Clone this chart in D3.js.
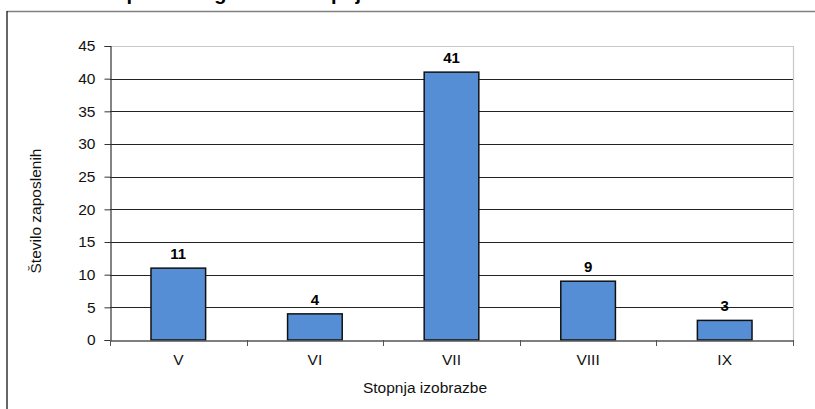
<!DOCTYPE html>
<html>
<head>
<meta charset="utf-8">
<script src="https://cdn.jsdelivr.net/npm/d3@7"></script>
<style>
html,body{margin:0;padding:0;background:#fff;}
svg{display:block;font-family:"Liberation Sans",Arial,sans-serif;}
</style>
</head>
<body>
<svg id="chart" width="815" height="409"></svg>
<script>
const categories = ["V", "VI", "VII", "VIII", "IX"];
const values = [11, 4, 41, 9, 3];
const yTicks = [0, 5, 10, 15, 20, 25, 30, 35, 40, 45];
const titleText = "Struktura zaposlenih glede na stopnjo izobrazbe";
const xTitle = "Stopnja izobrazbe";
const yTitle = "Število zaposlenih";

const svg = d3.select("#chart");
const plot = {left: 110, right: 793, top: 46, bottom: 340};
const fs = 15.5;

// chart frame
svg.append("line").attr("x1", 7).attr("x2", 815).attr("y1", 11.5).attr("y2", 11.5)
  .attr("stroke", "#808080").attr("stroke-width", 1.5);
svg.append("line").attr("x1", 7).attr("x2", 7).attr("y1", 11).attr("y2", 409)
  .attr("stroke", "#000").attr("stroke-width", 1.2);

// cut-off title
svg.append("text").attr("x", 11).attr("y", 0).attr("font-size", 20).attr("font-weight", "bold")
  .attr("fill", "#000").text(titleText);

const x = d3.scaleBand().domain(categories).range([plot.left, plot.right]).padding(0);
const y = d3.scaleLinear().domain([0, 45]).range([plot.bottom, plot.top]);

// gridlines
svg.append("g").selectAll("line").data(yTicks.filter(d => d > 0 && d < 45)).join("line")
  .attr("x1", plot.left).attr("x2", plot.right)
  .attr("y1", d => Math.round(y(d)) + 0.5).attr("y2", d => Math.round(y(d)) + 0.5)
  .attr("stroke", "#222").attr("stroke-width", 1);

// plot border top/right
svg.append("path")
  .attr("d", `M${plot.left},${Math.round(y(45)) + 0.5}H${plot.right + 0.5}V${plot.bottom}`)
  .attr("fill", "none").attr("stroke", "#c8c8c8").attr("stroke-width", 1.2);

// bars
const bw = x.bandwidth() * 0.4;
svg.append("g").selectAll("rect").data(values).join("rect")
  .attr("x", (d, i) => x(categories[i]) + (x.bandwidth() - bw) / 2)
  .attr("y", d => y(d))
  .attr("width", bw)
  .attr("height", d => y(0) - y(d))
  .attr("fill", "#558ed5").attr("stroke", "#111").attr("stroke-width", 1.5);

// value labels
svg.append("g").selectAll("text").data(values).join("text")
  .attr("x", (d, i) => x(categories[i]) + x.bandwidth() / 2)
  .attr("y", d => y(d) - 9)
  .attr("text-anchor", "middle").attr("font-size", 15).attr("font-weight", "bold")
  .attr("fill", "#000").text(d => d);

// y axis
const yAxis = d3.axisLeft(y).tickValues(yTicks).tickSize(6).tickPadding(9);
const gy = svg.append("g").attr("transform", `translate(${plot.left + 0.5},0)`).call(yAxis);
gy.select(".domain").attr("stroke", "#333").attr("stroke-width", 1.2);
gy.selectAll(".tick line").attr("stroke", "#333");
gy.selectAll("text").attr("font-size", fs).attr("fill", "#111")
  .attr("font-family", "Liberation Sans, Arial, sans-serif");

// x axis
const gx = svg.append("g").attr("transform", `translate(0,${plot.bottom + 0.5})`)
  .call(d3.axisBottom(x).tickSize(0).tickPadding(13));
gx.select(".domain").attr("stroke", "#555").attr("stroke-width", 1.5);
gx.selectAll("text").attr("font-size", fs).attr("fill", "#111")
  .attr("font-family", "Liberation Sans, Arial, sans-serif");
// category boundary ticks
const bounds = categories.map(c => x(c)).concat([plot.right]);
svg.append("g").selectAll("line").data(bounds).join("line")
  .attr("x1", d => Math.round(d) + 0.5).attr("x2", d => Math.round(d) + 0.5)
  .attr("y1", plot.bottom).attr("y2", plot.bottom + 6)
  .attr("stroke", "#555").attr("stroke-width", 1);

// axis titles
svg.append("text").attr("x", 425).attr("y", 393).attr("text-anchor", "middle")
  .attr("font-size", fs).attr("fill", "#111").text(xTitle);
svg.append("text").attr("transform", "translate(41,211) rotate(-90)")
  .attr("text-anchor", "middle").attr("font-size", fs).attr("fill", "#111").text(yTitle);
</script>
</body>
</html>
